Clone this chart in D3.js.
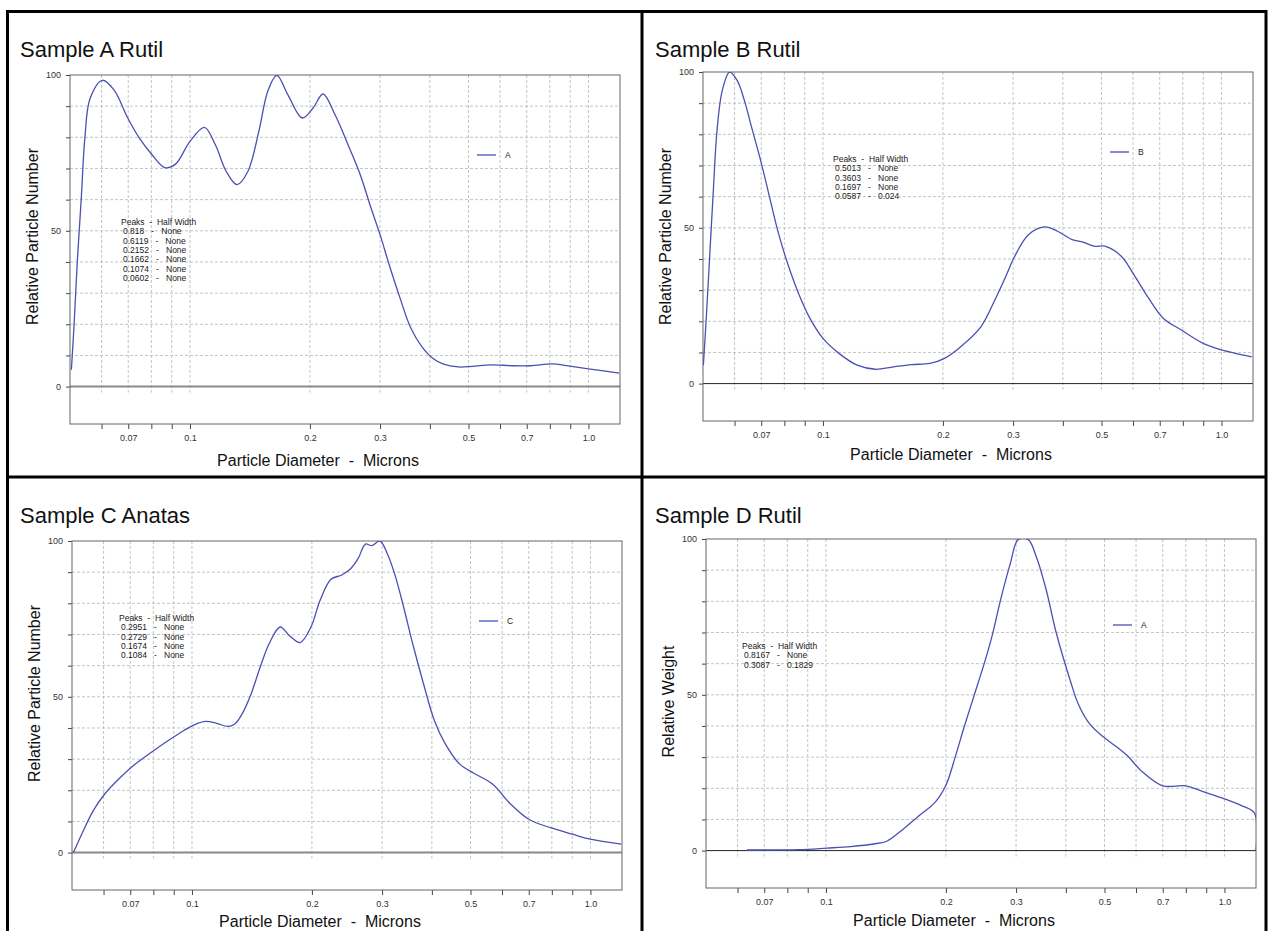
<!DOCTYPE html>
<html>
<head>
<meta charset="utf-8">
<script src="https://cdn.jsdelivr.net/npm/d3@7"></script>
<style>
  body { margin: 0; background: #fff; }
  svg { display: block; font-family: "Liberation Sans", Arial, sans-serif; }
</style>
</head>
<body>
<svg id="chart" width="1268" height="931"></svg>
<script>
// particle size (microns) and relative amount
const sizesA = [0.0504,0.0512,0.0522,0.0534,0.0545,0.0562,0.0603,0.0644,0.0698,0.0746,0.0803,0.0864,0.0920,0.1,0.1087,0.1158,0.1233,0.1313,0.1398,0.1489,0.1568,0.1652,0.1760,0.1913,0.2037,0.2157,0.2311,0.2512,0.2675,0.2847,0.3001,0.3162,0.3367,0.3585,0.3818,0.4064,0.4329,0.4708,0.5118,0.5682,0.6443,0.7154,0.8112,0.8820,1.0,1.195];
const valuesA = [5.4,20,41,61,80,92.6,98.3,95.3,86.2,79.8,74.4,70.3,71.4,78.7,83.2,77.6,69.1,64.8,69.1,81.9,94.8,99.9,93.7,86.2,89.4,93.9,87.3,76.6,68,57.3,48.7,39.1,28.4,18.7,12.8,9.1,7.2,6.3,6.5,7.0,6.7,6.7,7.3,6.7,5.7,4.3];

const sizesB = [0.0501,0.0509,0.0520,0.0531,0.0542,0.0559,0.0583,0.0609,0.0635,0.0662,0.0698,0.0735,0.0775,0.0817,0.0871,0.0927,0.1,0.1097,0.1219,0.1354,0.1504,0.1671,0.1856,0.2019,0.2244,0.2493,0.2713,0.2888,0.3013,0.3278,0.3601,0.3879,0.4219,0.4494,0.4787,0.5099,0.5605,0.6034,0.6565,0.7140,0.7931,0.9,1.0,1.111,1.191];
const valuesB = [5.9,20,41.5,62.4,81,94.1,100,97.3,90.9,82.3,71.5,59.7,47.8,38.2,28.5,21.0,14.5,9.7,5.9,4.6,5.4,6.1,6.5,8.1,12.4,18.3,27.4,34.9,40.3,47.8,50.3,48.9,46.2,45.4,44.1,44.1,40.9,34.9,27.4,21.0,17.2,12.9,10.8,9.4,8.6];

const sizesC = [0.0504,0.0531,0.0565,0.0604,0.0655,0.0712,0.0791,0.0878,0.0955,0.1017,0.1083,0.1153,0.1229,0.1281,0.1336,0.1408,0.1483,0.1563,0.1665,0.1754,0.1868,0.1989,0.2097,0.2233,0.2377,0.2505,0.2613,0.2725,0.2829,0.2963,0.3090,0.3223,0.3396,0.3579,0.3811,0.4058,0.4322,0.4699,0.5112,0.5676,0.6302,0.6999,0.7940,0.9006,1.0,1.195];
const valuesC = [0,6.4,13.4,18.8,23.6,27.9,32.2,36.2,39.2,41.1,42.1,41.5,40.5,41.3,44.5,51.0,59.5,67.1,72.4,69.7,67.4,72.4,81.0,87.7,89.1,91.2,94.4,99.0,98.5,100,96.0,89.6,78.9,67.1,54.2,42.4,34.9,28.4,25.4,22.0,15.6,10.7,8.0,5.9,4.3,2.7];

const sizesD = [0.0633,0.0854,0.1005,0.1155,0.1327,0.1421,0.156,0.1712,0.1878,0.2,0.211,0.222,0.235,0.2495,0.2613,0.2737,0.29,0.3037,0.3218,0.337,0.357,0.3782,0.4102,0.43,0.46,0.5,0.54,0.57,0.62,0.7,0.8,0.88,1.0,1.1,1.19,1.2];
const valuesD = [0.2,0.3,0.8,1.3,2.2,3.0,6.8,11.2,15.5,21,30,39.5,49.5,60,69,80,92,99.8,99.8,94.4,83.7,70,54.6,47,40.5,36.2,33,30.5,25.5,20.8,20.8,19,16.6,14.5,12,0];

const peaksA = ["0.818", "0.6119", "0.2152", "0.1662", "0.1074", "0.0602"];
const widthsA = ["None", "None", "None", "None", "None", "None"];
const peaksB = ["0.5013", "0.3603", "0.1697", "0.0587"];
const widthsB = ["None", "None", "None", "0.024"];
const peaksC = ["0.2951", "0.2729", "0.1674", "0.1084"];
const widthsC = ["None", "None", "None", "None"];
const peaksD = ["0.8167", "0.3087"];
const widthsD = ["None", "0.1829"];

const xDomain = [0.05, 1.2];
const xGrid = [0.06,0.07,0.08,0.09,0.1,0.2,0.3,0.4,0.5,0.6,0.7,0.8,0.9,1.0];
const xLabels = ["0.07", "0.1", "0.2", "0.3", "0.5", "0.7", "1.0"];
const yDomain = [-12, 100];
const yGrid = [0,10,20,30,40,50,60,70,80,90,100];
const yLabels = [0, 50, 100];

const LINE_COLOR = "#4b50b2";
const W = 550, H = 349;

const panels = [
  { title: "Sample A Rutil", yTitle: "Relative Particle Number", legend: "A", sizes: sizesA, values: valuesA,
    peaks: peaksA, widths: widthsA, left: 70, top: 75, px: 51, py: 150, zero: "#8a8a8a", zw: 2, xt: 42, yt: -13 },
  { title: "Sample B Rutil", yTitle: "Relative Particle Number", legend: "B", sizes: sizesB, values: valuesB,
    peaks: peaksB, widths: widthsB, left: 703, top: 72, px: 130, py: 90, zero: "#222", zw: 1, xt: 39, yt: -10 },
  { title: "Sample C Anatas", yTitle: "Relative Particle Number", legend: "C", sizes: sizesC, values: valuesC,
    peaks: peaksC, widths: widthsC, left: 72, top: 541, px: 47, py: 80, zero: "#8a8a8a", zw: 2, xt: 37, yt: -22 },
  { title: "Sample D Rutil", yTitle: "Relative Weight", legend: "A", sizes: sizesD, values: valuesD,
    peaks: peaksD, widths: widthsD, left: 706, top: 539, px: 36, py: 110, zero: "#222", zw: 1, xt: 38, yt: -12 }
];

const svg = d3.select("#chart");

panels.forEach(function (p, i) {
  let x = d3.scaleLog().domain(xDomain).range([0, W]);
  let y = d3.scaleLinear().domain(yDomain).range([H, 0]);

  // title sits in the panel cell, not relative to the plot
  let cellX = i % 2 === 0 ? 20 : 655;
  let cellY = i < 2 ? 57 : 523;
  svg.append("text")
     .attr("x", cellX).attr("y", cellY)
     .attr("font-size", "22px").attr("fill", "#111")
     .text(p.title);

  let g = svg.append("g").attr("transform", `translate(${p.left},${p.top})`);

  // horizontal grid
  g.append("g")
   .selectAll("line")
   .data(yGrid.filter(d => d > 0 && d < 100))
   .enter().append("line")
   .attr("x1", 0).attr("x2", W)
   .attr("y1", d => y(d)).attr("y2", d => y(d))
   .attr("stroke", "#c4c4c4").attr("stroke-dasharray", "3,2");

  // vertical grid, stops a bit under the zero line
  g.append("g")
   .selectAll("line")
   .data(xGrid)
   .enter().append("line")
   .attr("x1", d => x(d)).attr("x2", d => x(d))
   .attr("y1", 0).attr("y2", y(0) + 6)
   .attr("stroke", "#c4c4c4").attr("stroke-dasharray", "3,2");

  // axes
  let xAxis = d3.axisBottom(x)
    .tickValues(xGrid)
    .tickSize(5)
    .tickFormat(d => {
      let s = d >= 1 ? d.toFixed(1) : String(+d.toFixed(2));
      return xLabels.includes(s) ? s : "";
    });
  let xa = g.append("g").attr("transform", `translate(0,${H})`).call(xAxis);
  xa.select(".domain").remove();
  xa.selectAll("line").attr("stroke", "#444");
  xa.selectAll("text").attr("font-size", "9px").attr("fill", "#333")
    .attr("font-family", "Liberation Sans, Arial, sans-serif").attr("dy", "1.0em");

  let yAxis = d3.axisLeft(y)
    .tickValues(yGrid)
    .tickSize(4)
    .tickFormat(d => yLabels.includes(d) ? d : "");
  let ya = g.append("g").call(yAxis);
  ya.select(".domain").remove();
  ya.selectAll("line").attr("stroke", "#444");
  ya.selectAll("text").attr("font-size", "9px").attr("fill", "#333")
    .attr("font-family", "Liberation Sans, Arial, sans-serif").attr("x", -9);

  // zero line
  g.append("line")
   .attr("x1", 0).attr("x2", W)
   .attr("y1", y(0)).attr("y2", y(0))
   .attr("stroke", p.zero).attr("stroke-width", p.zw);

  // frame
  g.append("rect")
   .attr("width", W).attr("height", H)
   .attr("fill", "none").attr("stroke", "#666").attr("stroke-width", 1);

  // curve
  let clipId = "clip" + i;
  g.append("clipPath").attr("id", clipId)
   .append("rect").attr("width", W).attr("height", H);

  let line = d3.line()
    .x(d => x(d[0]))
    .y(d => y(d[1]))
    .curve(d3.curveCatmullRom.alpha(0.5));

  g.append("path")
   .datum(d3.zip(p.sizes, p.values))
   .attr("clip-path", `url(#${clipId})`)
   .attr("d", line)
   .attr("fill", "none")
   .attr("stroke", LINE_COLOR)
   .attr("stroke-width", 1.3);

  // legend
  let lg = g.append("g").attr("transform", `translate(407,${i === 3 ? 86 : 80})`);
  lg.append("line").attr("x1", 0).attr("x2", 19).attr("stroke", LINE_COLOR).attr("stroke-width", 1.3);
  lg.append("text").attr("x", 28).attr("y", 3).attr("font-size", "8.5px").attr("fill", "#222").text(p.legend);

  // peaks table
  let pk = g.append("g").attr("transform", `translate(${p.px},${p.py})`)
    .attr("font-size", "8.5px").attr("fill", "#1a1a1a");
  pk.append("text").style("white-space", "pre")
    .text("Peaks  -  Half Width");
  pk.selectAll("text.row")
    .data(p.peaks)
    .enter().append("text")
    .attr("class", "row")
    .style("white-space", "pre")
    .attr("x", 2)
    .attr("y", (d, j) => 9.3 * (j + 1))
    .text((d, j) => d + "   -   " + p.widths[j]);

  // axis titles
  g.append("text")
   .attr("x", 248).attr("y", H + p.xt)
   .attr("text-anchor", "middle")
   .attr("font-size", "16px").attr("fill", "#111")
   .style("white-space", "pre")
   .text("Particle Diameter  -  Microns");

  g.append("text")
   .attr("transform", `translate(-32,${H / 2 + p.yt}) rotate(-90)`)
   .attr("text-anchor", "middle")
   .attr("font-size", "16px").attr("fill", "#111")
   .text(p.yTitle);
});

// panel frame and dividers
svg.append("rect")
   .attr("x", 7.5).attr("y", 11.5).attr("width", 1258.5).attr("height", 930)
   .attr("fill", "none").attr("stroke", "#000").attr("stroke-width", 3);
svg.append("line")
   .attr("x1", 642).attr("x2", 642).attr("y1", 11).attr("y2", 931)
   .attr("stroke", "#000").attr("stroke-width", 3);
svg.append("line")
   .attr("x1", 7).attr("x2", 1266).attr("y1", 477).attr("y2", 477)
   .attr("stroke", "#000").attr("stroke-width", 3);
</script>
</body>
</html>
